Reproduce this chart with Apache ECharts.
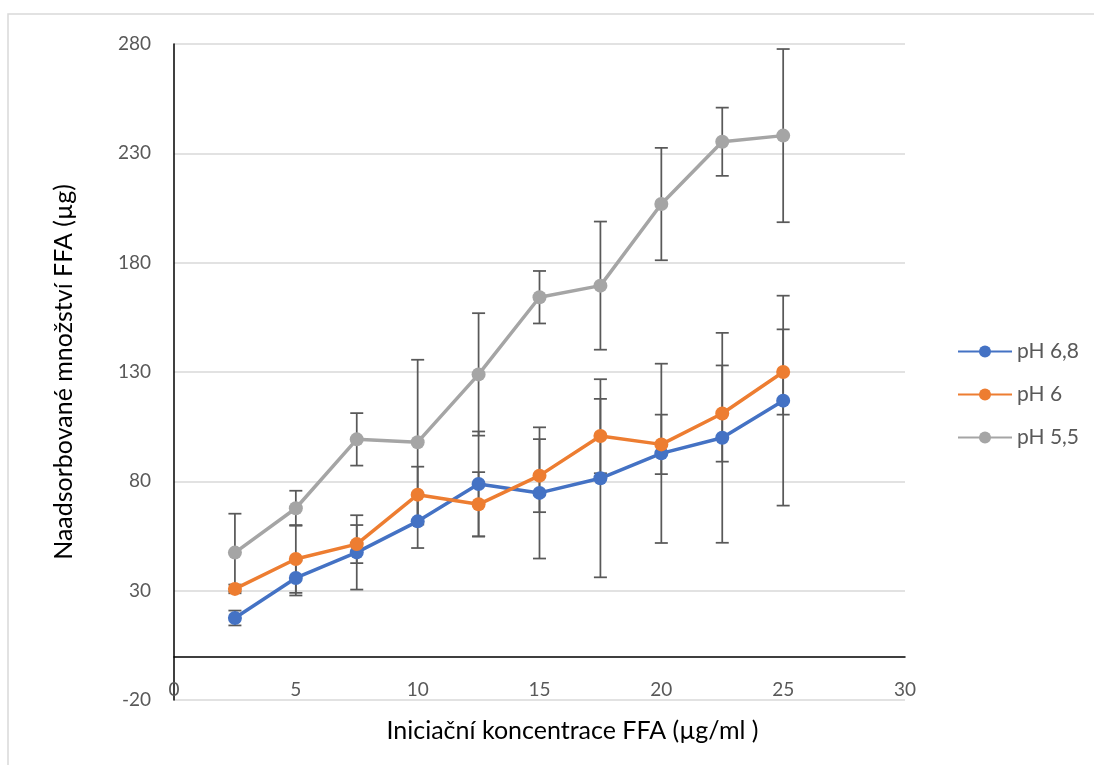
<!DOCTYPE html>
<html>
<head>
<meta charset="utf-8">
<script src="https://cdn.jsdelivr.net/npm/echarts@6/dist/echarts.min.js"></script>
<style>
  html, body { margin: 0; padding: 0; background: #ffffff; }
  #chart { width: 1094px; height: 765px; }
</style>
</head>
<body>
<div id="chart"></div>
<script>
// Initial FFA concentration (µg/ml)
const concentrations = [2.5, 5, 7.5, 10, 12.5, 15, 17.5, 20, 22.5, 25];

// Adsorbed FFA amount (µg) and standard deviations per pH
const ph68 = [17.5, 35.8, 47.5, 61.7, 78.8, 74.7, 81.4, 92.8, 99.9, 116.9];
const ph68Err = [3.4, 8, 17, 12.2, 24, 30, 45.3, 41, 48, 48];

const ph6 = [30.8, 44.5, 51.3, 73.9, 69.5, 82.6, 100.7, 96.9, 111.0, 130.0];
const ph6Err = [2, 15.5, 8.7, 12.8, 14.7, 16.7, 17, 13.6, 22, 19.5];

const ph55 = [47.4, 67.7, 99.2, 97.9, 128.9, 164.2, 169.5, 206.8, 235.3, 238.1];
const ph55Err = [17.8, 8, 12, 37.7, 28, 12, 29.3, 25.7, 15.6, 39.6];

const seriesNames = ['pH 6,8', 'pH 6', 'pH 5,5'];
const seriesColors = ['#4472C4', '#ED7D31', '#A5A5A5'];

const FONT = 'Lato, "Noto Sans", sans-serif';
const TEXT_COLOR = '#595959';

function pairs(values) {
  return concentrations.map((x, i) => [x, values[i]]);
}

function errorData(values, errs) {
  return concentrations.map((x, i) => [x, values[i] - errs[i], values[i] + errs[i]]);
}

// Vertical error bar with caps at both ends
function renderErrorBar(params, api) {
  const x = api.value(0);
  const top = api.coord([x, api.value(2)]);
  const bottom = api.coord([x, api.value(1)]);
  const half = 6.5;
  const style = { stroke: '#595959', lineWidth: 1.75 };
  return {
    type: 'group',
    children: [
      { type: 'line', shape: { x1: top[0], y1: top[1], x2: bottom[0], y2: bottom[1] }, style },
      { type: 'line', shape: { x1: top[0] - half, y1: top[1], x2: top[0] + half, y2: top[1] }, style },
      { type: 'line', shape: { x1: bottom[0] - half, y1: bottom[1], x2: bottom[0] + half, y2: bottom[1] }, style }
    ]
  };
}

const valueSets = [ph68, ph6, ph55];
const errSets = [ph68Err, ph6Err, ph55Err];

const series = [];
valueSets.forEach((vals, i) => {
  series.push({
    name: seriesNames[i] + ' SD',
    type: 'custom',
    renderItem: renderErrorBar,
    data: errorData(vals, errSets[i]),
    encode: { x: 0, y: [1, 2] },
    z: 1,
    silent: true
  });
});
valueSets.forEach((vals, i) => {
  series.push({
    name: seriesNames[i],
    type: 'line',
    data: pairs(vals),
    symbol: 'circle',
    symbolSize: 14,
    color: seriesColors[i],
    lineStyle: { width: 3.5, color: seriesColors[i] },
    itemStyle: { color: seriesColors[i] },
    z: 2 + i
  });
});

const chart = echarts.init(document.getElementById('chart'), null, { renderer: 'canvas' });

chart.setOption({
  animation: false,
  backgroundColor: '#ffffff',
  graphic: [
    {
      type: 'rect',
      shape: { x: 8, y: 14, width: 1100, height: 800 },
      style: { fill: 'none', stroke: '#d9d9d9', lineWidth: 1.5 },
      silent: true,
      z: -10
    }
  ],
  grid: { left: 174, right: 189, top: 44, bottom: 65, containLabel: false, outerBoundsMode: 'none' },
  legend: {
    data: seriesNames,
    orient: 'vertical',
    left: 952,
    top: 336,
    itemWidth: 54,
    itemHeight: 15,
    itemGap: 22,
    textStyle: { color: TEXT_COLOR, fontSize: 21, fontFamily: FONT, lineHeight: 21 }
  },
  xAxis: {
    type: 'value',
    min: 0,
    max: 30,
    interval: 5,
    name: 'Iniciační koncentrace FFA (µg/ml )',
    nameLocation: 'middle',
    nameGap: 18,
    nameTextStyle: { color: '#000000', fontSize: 25, fontFamily: FONT, padding: [0, 0, 0, 66] },
    axisLine: { show: true, onZero: true, lineStyle: { color: '#000000', width: 1.5 } },
    axisTick: { show: false },
    splitLine: { show: false },
    axisLabel: { color: TEXT_COLOR, fontSize: 19, fontFamily: FONT, margin: -20 }
  },
  yAxis: {
    type: 'value',
    min: -20,
    max: 280,
    interval: 50,
    name: 'Naadsorbované množství FFA (µg)',
    nameLocation: 'middle',
    nameGap: 98,
    nameTextStyle: { color: '#000000', fontSize: 25, fontFamily: FONT },
    axisLine: { show: true, onZero: false, lineStyle: { color: '#000000', width: 1.5 } },
    axisTick: { show: false },
    splitLine: { show: true, lineStyle: { color: '#d9d9d9', width: 1.5 } },
    axisLabel: { color: TEXT_COLOR, fontSize: 19, fontFamily: FONT, margin: 23 }
  },
  series
});
</script>
</body>
</html>
